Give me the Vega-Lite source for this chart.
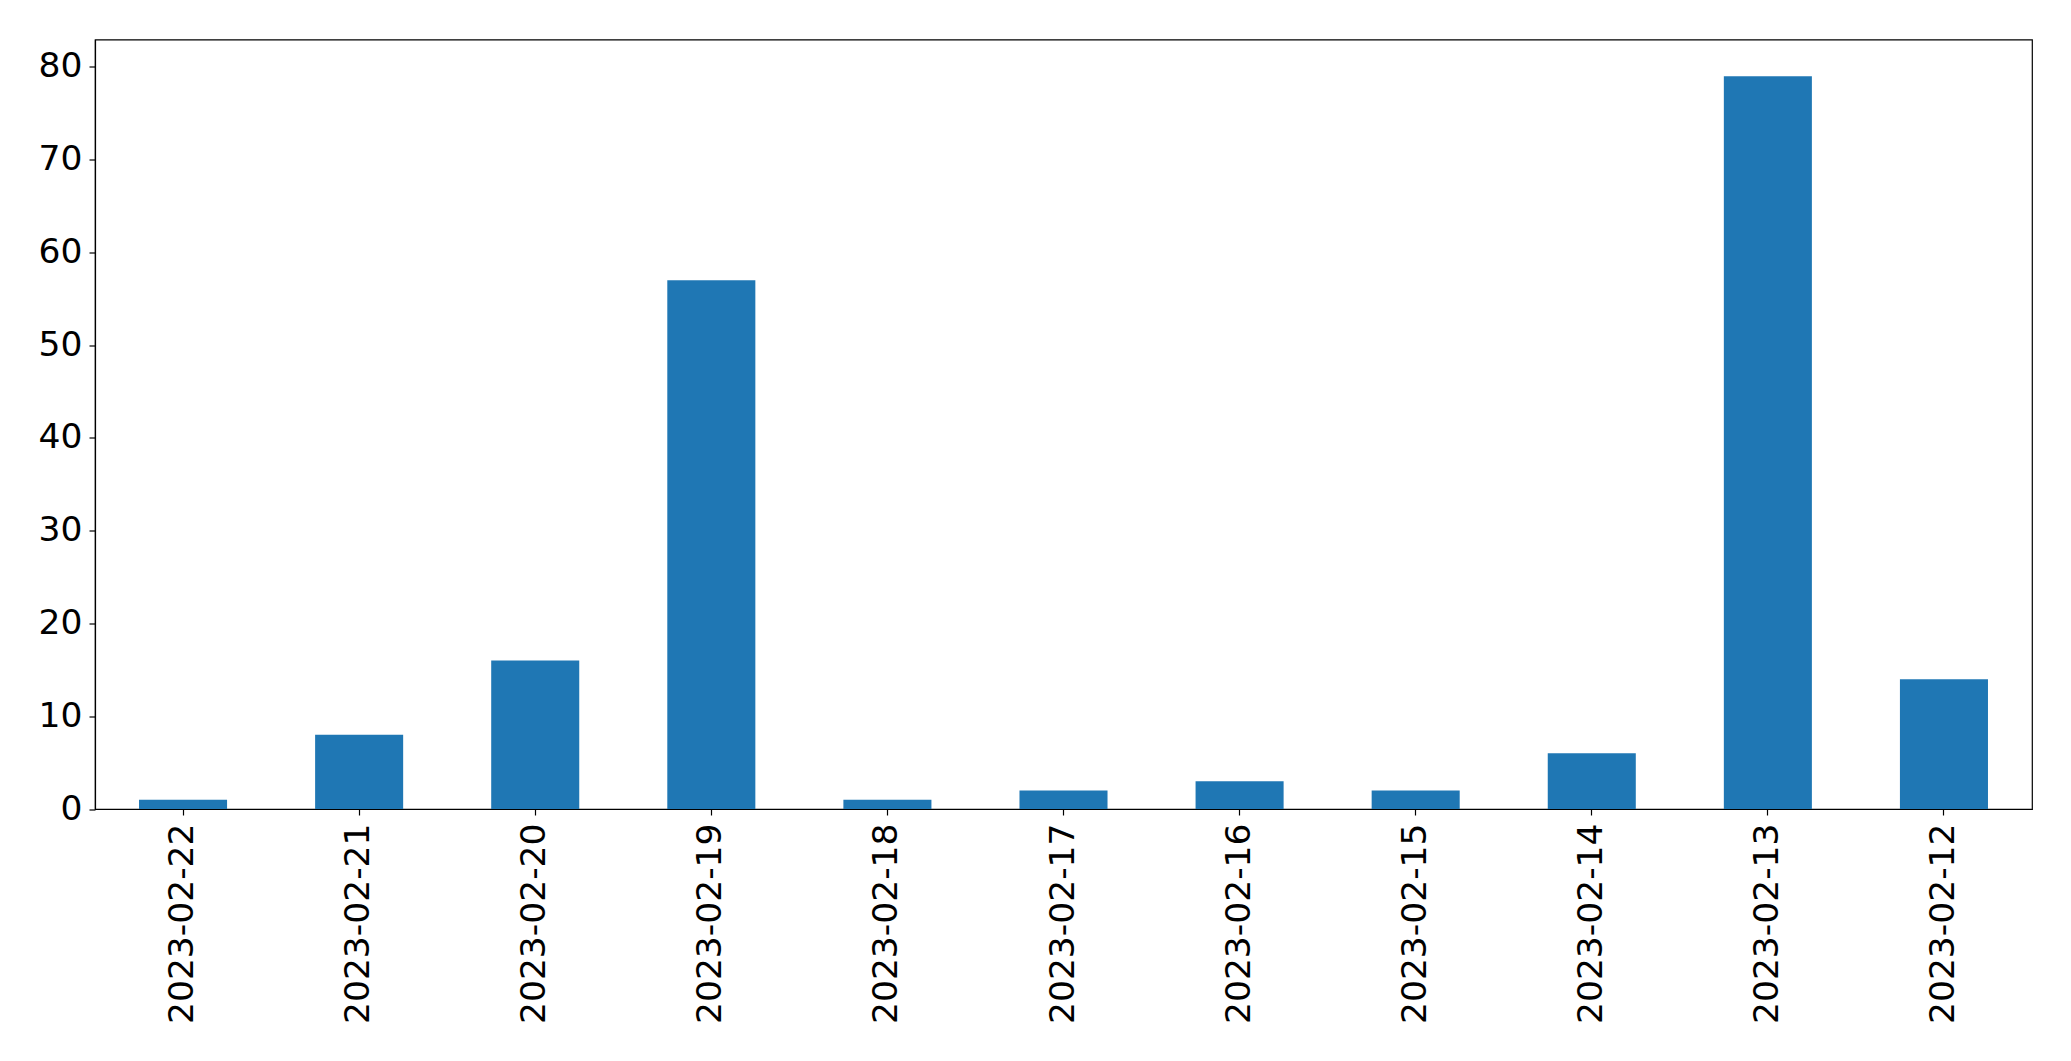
{
  "$schema": "https://vega.github.io/schema/vega-lite/v6.json",
  "autosize": "none",
  "width": 1937,
  "height": 769.5,
  "padding": {"left": 95, "top": 39.5, "right": 39, "bottom": 252},
  "background": "white",
  "config": {
    "view": {"stroke": "black", "strokeWidth": 1.2},
    "axis": {
      "labelFont": "DejaVu Sans",
      "labelFontSize": 34.5,
      "labelColor": "black",
      "labelLimit": 0,
      "domainColor": "black",
      "tickColor": "black",
      "tickSize": 6,
      "tickWidth": 1.2,
      "domainWidth": 1.2,
      "grid": false,
      "title": null
    }
  },
  "data": {
    "values": [
      {"date": "2023-02-22", "count": 1},
      {"date": "2023-02-21", "count": 8},
      {"date": "2023-02-20", "count": 16},
      {"date": "2023-02-19", "count": 57},
      {"date": "2023-02-18", "count": 1},
      {"date": "2023-02-17", "count": 2},
      {"date": "2023-02-16", "count": 3},
      {"date": "2023-02-15", "count": 2},
      {"date": "2023-02-14", "count": 6},
      {"date": "2023-02-13", "count": 79},
      {"date": "2023-02-12", "count": 14}
    ]
  },
  "mark": {"type": "bar", "color": "#1f77b4"},
  "encoding": {
    "x": {
      "field": "date",
      "type": "nominal",
      "sort": null,
      "scale": {"paddingInner": 0.5, "paddingOuter": 0.25},
      "axis": {"labelAngle": -90, "labelAlign": "right", "labelBaseline": "middle", "labelPadding": 8}
    },
    "y": {
      "field": "count",
      "type": "quantitative",
      "scale": {"domain": [0, 82.95], "nice": false},
      "axis": {"values": [0, 10, 20, 30, 40, 50, 60, 70, 80], "labelPadding": 7}
    }
  }
}
